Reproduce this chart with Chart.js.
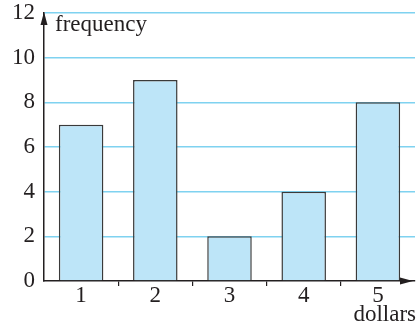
<!DOCTYPE html>
<html>
<head>
<meta charset="utf-8">
<script src="https://cdn.jsdelivr.net/npm/chart.js@4.4.1/dist/chart.umd.min.js"></script>
<style>
  html, body { margin: 0; padding: 0; background: #fff; }
  #wrap { width: 420px; height: 324px; position: relative; }
</style>
</head>
<body>
<div id="wrap"><canvas id="chart-freq"></canvas></div>
<script>
// data
const categories = ['1', '2', '3', '4', '5'];
const frequency = [7, 9, 2, 4, 8];
const yTicks = [0, 2, 4, 6, 8, 10, 12];

const ink = '#231f20';
const serif = '"Liberation Serif", "DejaVu Serif", serif';

// arrows on both axes plus the two axis captions
const axisDecor = {
    id: 'axisDecor',
    afterDraw(chart) {
        const c = chart.ctx;
        const a = chart.chartArea;
        c.save();
        c.fillStyle = ink;
        // y arrow
        c.beginPath();
        c.moveTo(a.left, a.top - 1);
        c.lineTo(a.left - 3.5, a.top + 12);
        c.lineTo(a.left + 3.5, a.top + 12);
        c.closePath();
        c.fill();
        // x arrow
        const tip = a.right - 2;
        c.beginPath();
        c.moveTo(tip, a.bottom);
        c.lineTo(tip - 13, a.bottom - 3.5);
        c.lineTo(tip - 13, a.bottom + 3.5);
        c.closePath();
        c.fill();
        // captions
        c.font = '23px ' + serif;
        c.textBaseline = 'middle';
        c.textAlign = 'left';
        c.fillText('frequency', a.left + 11, 25);
        c.textAlign = 'right';
        c.fillText('dollars', 416, 315);
        c.restore();
    }
};

const ctx = document.getElementById('chart-freq').getContext('2d');
const myChart = new Chart(ctx, {
    type: 'bar',
    data: {
        labels: categories,
        datasets: [{
            label: 'frequency',
            data: frequency,
            backgroundColor: '#bde5f8',
            borderColor: '#3a3a3a',
            borderWidth: 1.5,
            barPercentage: 0.6,
            categoryPercentage: 1
        }]
    },
    options: {
        responsive: true,
        maintainAspectRatio: false,
        animation: false,
        layout: { padding: { top: 13, right: 5, left: 0, bottom: 0 } },
        plugins: {
            legend: { display: false },
            tooltip: { enabled: false }
        },
        scales: {
            x: {
                offset: true,
                grid: {
                    offset: true,
                    drawOnChartArea: false,
                    tickLength: 5,
                    lineWidth: 1.2,
                    color: (c) => (c.index === undefined || c.index === 0 || c.index >= categories.length) ? 'rgba(0,0,0,0)' : ink
                },
                border: { color: ink, width: 1.5 },
                ticks: { color: ink, padding: -4, font: { family: serif, size: 23 } },
                afterFit(scale) { scale.height = 43; }
            },
            y: {
                min: 0,
                max: 12,
                afterBuildTicks(scale) { scale.ticks = yTicks.map(v => ({ value: v })); },
                grid: {
                    drawTicks: false,
                    color: (c) => c.tick && c.tick.value === 0 ? 'rgba(0,0,0,0)' : '#7fd2f0',
                    lineWidth: 1.5
                },
                border: { color: ink, width: 1.5 },
                ticks: { color: ink, padding: 9, font: { family: serif, size: 23 } },
                afterFit(scale) {
                    scale.width = 44;
                    scale.paddingTop = 0;
                    scale.paddingBottom = 0;
                }
            }
        }
    },
    plugins: [axisDecor]
});
</script>
</body>
</html>
